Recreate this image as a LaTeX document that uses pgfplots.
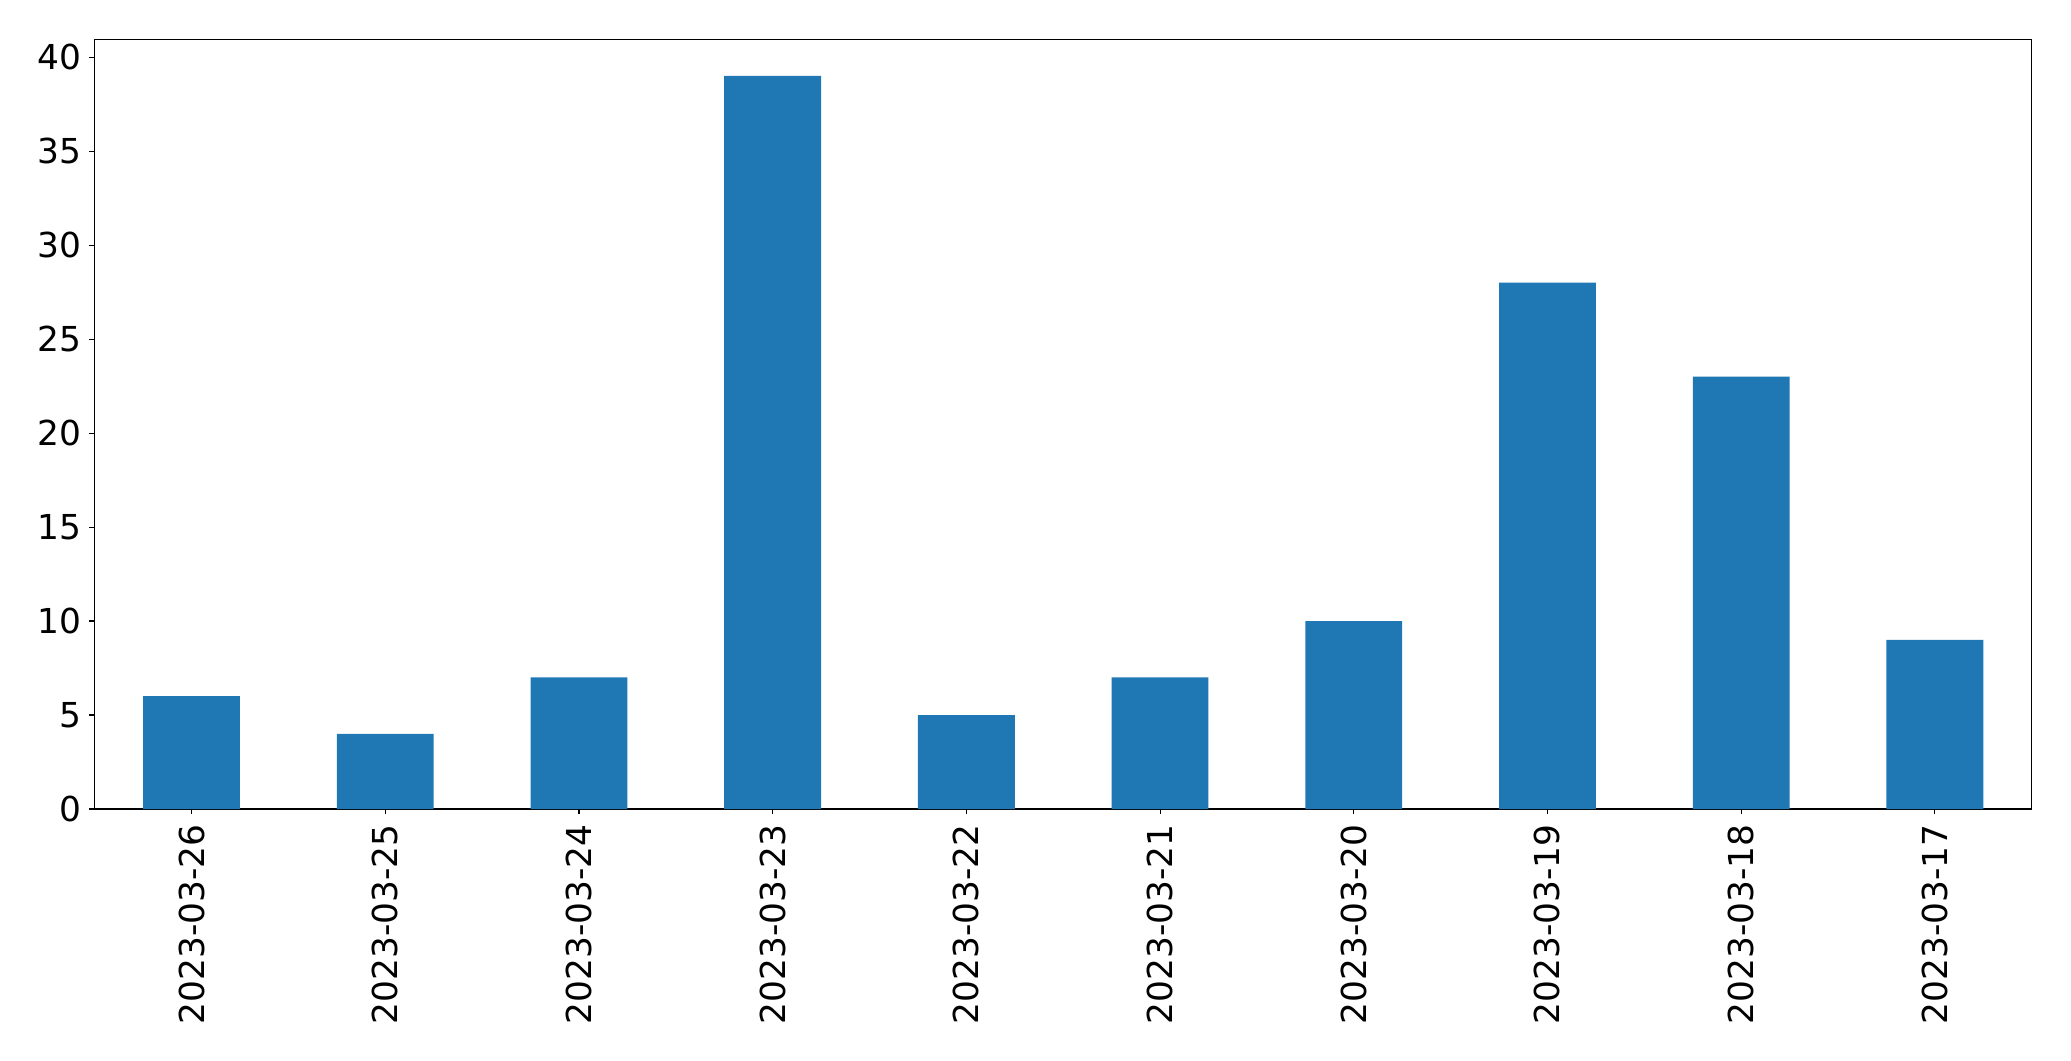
\documentclass[border=0pt]{standalone}
\usepackage{pgfplots}
\pgfplotsset{compat=1.18}
\usepackage{fontspec}
\setmainfont{DejaVu Sans}
\definecolor{mplblue}{HTML}{1F77B4}
\begin{document}
\begin{tikzpicture}
\useasboundingbox (-94.7bp,-252bp) rectangle (1976.3bp,809bp);
\begin{axis}[
  at={(0,0)}, anchor=south west,
  scale only axis,
  width=1937bp, height=769.7bp,
  xmin=-0.5, xmax=9.5, ymin=0, ymax=40.95,
  xtick={0,...,9},
  xticklabels={2023-03-26,2023-03-25,2023-03-24,2023-03-23,2023-03-22,2023-03-21,2023-03-20,2023-03-19,2023-03-18,2023-03-17},
  ytick={0,5,...,40},
  tick align=outside,
  xtick pos=bottom, ytick pos=left,
  major tick length=5.3bp,
  every tick/.style={black, line width=1.1bp},
  axis line style={black, line width=1.1bp},
  tick label style={font=\fontsize{34.5}{40}\selectfont},
  /pgf/number format/assume math mode=true,
  xticklabel style={rotate=90, anchor=east, inner sep=0pt, xshift=-10bp},
  yticklabel style={anchor=east, inner sep=0pt, xshift=-7.5bp},
]
\addplot[ybar, bar width=0.5, fill=mplblue, draw=none, bar shift=0pt] coordinates {
(0,6) (1,4) (2,7) (3,39) (4,5) (5,7) (6,10) (7,28) (8,23) (9,9)
};
\end{axis}
\end{tikzpicture}
\end{document}
